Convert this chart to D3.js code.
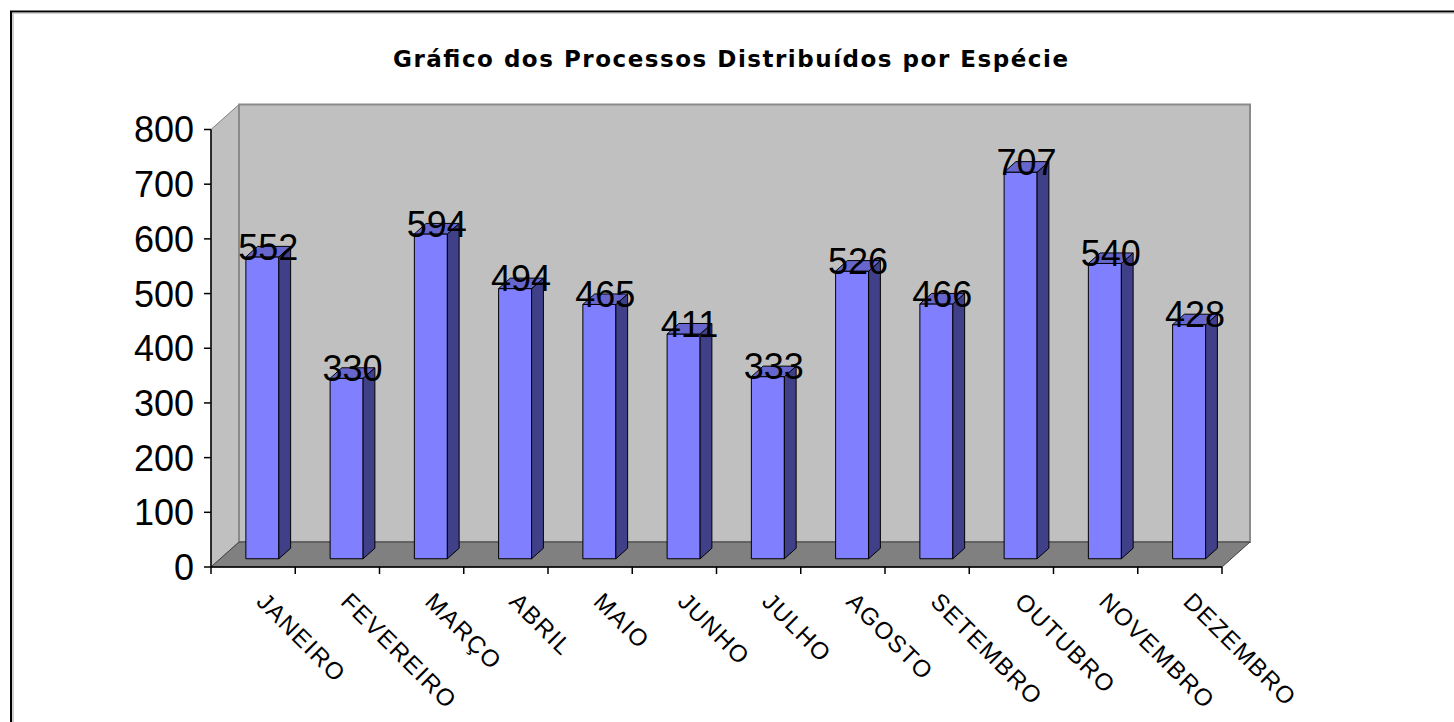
<!DOCTYPE html>
<html>
<head>
<meta charset="utf-8">
<script src="https://cdn.jsdelivr.net/npm/d3@7"></script>
<style>
  html, body { margin: 0; padding: 0; background: #fff; }
  svg { display: block; }
  text { font-family: Arial, "Liberation Sans", sans-serif; }
  text.title { font-family: "DejaVu Sans", Verdana, sans-serif; }
</style>
</head>
<body>
<svg id="chart" width="1454" height="722"></svg>
<script>
// Monthly distributed cases
const months = ["JANEIRO", "FEVEREIRO", "MARÇO", "ABRIL", "MAIO", "JUNHO",
                "JULHO", "AGOSTO", "SETEMBRO", "OUTUBRO", "NOVEMBRO", "DEZEMBRO"];
const processos = [552, 330, 594, 494, 465, 411, 333, 526, 466, 707, 540, 428];
const yTicks = [0, 100, 200, 300, 400, 500, 600, 700, 800];
const chartTitle = "Gráfico dos Processos Distribuídos por Espécie";

const svg = d3.select("#chart");
const W = 1454, H = 722;

// Front plane of the 3D box
const plotLeft = 211, plotRight = 1222, plotTop = 129.5, plotBottom = 567;
// Oblique depth vector (back plane offset)
const DX = 28, DY = 25;
// Depth range occupied by the columns (0 = front, 1 = back)
const d0 = 0.33, d1 = 0.75;
const barW = 33;

const x = d3.scaleBand().domain(months).range([plotLeft, plotRight]).paddingInner(0).paddingOuter(0);
const y = d3.scaleLinear().domain([0, 800]).range([plotBottom, plotTop]);

const proj = (px, py, d) => [px + d * DX, py - d * DY];
const poly = pts => "M" + pts.map(p => p.join(",")).join("L") + "Z";

// Outer frame
svg.append("path").attr("d", `M11,${H + 2}V11.5H${W + 2}`)
  .attr("fill", "none").attr("stroke", "#000").attr("stroke-width", 2);
svg.append("path").attr("d", `M13,${H + 2}V13H${W + 2}`)
  .attr("fill", "none").attr("stroke", "#a0a0a0").attr("stroke-width", 1);

// Title
svg.append("text")
  .attr("class", "title")
  .attr("x", 730.5).attr("y", 67)
  .attr("text-anchor", "middle")
  .attr("font-size", 23).attr("font-weight", "bold")
  .attr("textLength", 675).attr("lengthAdjust", "spacing")
  .text(chartTitle);

// Walls
const y0 = y(0), yMax = y(800);
svg.append("path") // left side wall
  .attr("d", poly([proj(plotLeft, y0, 0), proj(plotLeft, yMax, 0), proj(plotLeft, yMax, 1), proj(plotLeft, y0, 1)]))
  .attr("fill", "#c0c0c0").attr("stroke", "#808080").attr("stroke-width", 1);
svg.append("path") // back wall
  .attr("d", poly([proj(plotLeft, y0, 1), proj(plotLeft, yMax, 1), proj(plotRight, yMax, 1), proj(plotRight, y0, 1)]))
  .attr("fill", "#c0c0c0").attr("stroke", "#8a8a8a").attr("stroke-width", 2);
svg.append("path") // floor
  .attr("d", poly([proj(plotLeft, y0, 0), proj(plotRight, y0, 0), proj(plotRight, y0, 1), proj(plotLeft, y0, 1)]))
  .attr("fill", "#808080").attr("stroke", "#404040").attr("stroke-width", 1);

// Columns
const bars = svg.append("g").selectAll("g").data(months).join("g");
bars.each(function (m, i) {
  const g = d3.select(this);
  const v = processos[i];
  const cx = x(m) + x.bandwidth() / 2;
  const xl = cx - barW / 2, xr = cx + barW / 2;
  const yv = y(v);
  g.append("path") // front
    .attr("d", poly([proj(xl, yv, d0), proj(xr, yv, d0), proj(xr, y0, d0), proj(xl, y0, d0)]))
    .attr("fill", "#8080ff").attr("stroke", "#000").attr("stroke-width", 1);
  g.append("path") // side
    .attr("d", poly([proj(xr, yv, d0), proj(xr, yv, d1), proj(xr, y0, d1), proj(xr, y0, d0)]))
    .attr("fill", "#404088").attr("stroke", "#000").attr("stroke-width", 1);
  g.append("path") // top
    .attr("d", poly([proj(xl, yv, d0), proj(xr, yv, d0), proj(xr, yv, d1), proj(xl, yv, d1)]))
    .attr("fill", "#6666cc").attr("stroke", "#000").attr("stroke-width", 1);
});

// Value labels at column tops
bars.append("text")
  .attr("x", (m, i) => proj(x(m) + x.bandwidth() / 2, y(processos[i]), (d0 + d1) / 2)[0])
  .attr("y", (m, i) => proj(x(m) + x.bandwidth() / 2, y(processos[i]), (d0 + d1) / 2)[1] + 8)
  .attr("text-anchor", "middle")
  .attr("font-size", 36)
  .attr("fill", "#000")
  .text((m, i) => processos[i]);

// Value axis
const yAxis = svg.append("g");
yAxis.append("line").attr("x1", plotLeft).attr("x2", plotLeft).attr("y1", yMax).attr("y2", y0)
  .attr("stroke", "#000").attr("stroke-width", 1.5);
yAxis.selectAll("line.tick").data(yTicks).join("line").attr("class", "tick")
  .attr("x1", plotLeft - 7).attr("x2", plotLeft).attr("y1", d => y(d)).attr("y2", d => y(d))
  .attr("stroke", "#000").attr("stroke-width", 1.5);
yAxis.selectAll("text").data(yTicks).join("text")
  .attr("x", 194).attr("y", d => y(d)).attr("dy", "0.36em")
  .attr("text-anchor", "end").attr("font-size", 36)
  .text(d => d);

// Category axis
const xAxis = svg.append("g");
xAxis.append("line").attr("x1", plotLeft).attr("x2", plotRight).attr("y1", y0).attr("y2", y0)
  .attr("stroke", "#000").attr("stroke-width", 1.5);
const bounds = months.map(m => x(m)).concat([plotRight]);
xAxis.selectAll("line.tick").data(bounds).join("line").attr("class", "tick")
  .attr("x1", d => d).attr("x2", d => d).attr("y1", y0).attr("y2", y0 + 7)
  .attr("stroke", "#000").attr("stroke-width", 1.5);
xAxis.selectAll("text").data(months).join("text")
  .attr("transform", m => `translate(${x(m) + x.bandwidth() / 2 + 2},603) rotate(45)`)
  .attr("text-anchor", "start").attr("font-size", 24)
  .attr("letter-spacing", 1.5)
  .text(m => m);
</script>
</body>
</html>
